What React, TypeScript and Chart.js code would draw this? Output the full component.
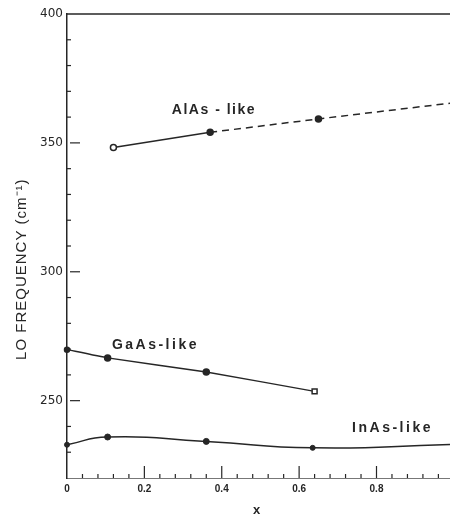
import { useEffect, useRef } from 'react';
import { Chart, registerables } from 'chart.js';

Chart.register(...registerables);

// Composition x and LO phonon frequency (cm⁻¹) for the three branches
const alAsX = [0.12, 0.37, 0.65, 0.99];
const alAsFreq = [348.2, 354.1, 359.3, 365.4];
const gaAsX = [0, 0.105, 0.36, 0.64];
const gaAsFreq = [269.8, 266.6, 261.1, 253.6];
const inAsX = [0, 0.105, 0.36, 0.635, 0.99];
const inAsFreq = [232.9, 235.9, 234.2, 231.7, 233.0];

const seriesNames = ['AlAs - like', 'GaAs-like', 'InAs-like'];
const yTickValues = [250, 300, 350, 400];
const xTickValues = [0, 0.2, 0.4, 0.6, 0.8];

const INK = '#262626';
const LABEL_FONT = '"Liberation Sans", Arial, sans-serif';

const toPoints = (xs: number[], ys: number[]) => xs.map((x, i) => ({ x, y: ys[i] }));

// where each branch name sits, in data coordinates (left edge, vertical middle)
const nameAnchors = [
  { x: 0.271, y: 362.8 },
  { x: 0.116, y: 271.7 },
  { x: 0.737, y: 239.5 },
];
const nameSpacing = ['1.5px', '2.5px', '2.5px'];

const decorations = {
  id: 'plotDecorations',
  afterDraw(chart: any) {
    const { ctx, chartArea, scales } = chart;
    const xs = scales.x;
    const ys = scales.y;
    ctx.save();

    // frame line along the top
    ctx.strokeStyle = INK;
    ctx.lineWidth = 1.5;
    ctx.beginPath();
    ctx.moveTo(chartArea.left, chartArea.top);
    ctx.lineTo(chart.width, chartArea.top);
    ctx.stroke();

    // y ticks pointing inward: every 10, longer at labelled values
    ctx.lineWidth = 1.2;
    for (let v = 230; v < 400; v += 10) {
      const py = ys.getPixelForValue(v);
      const major = v % 50 === 0;
      ctx.beginPath();
      ctx.moveTo(chartArea.left + (major ? 3 : 0), py);
      ctx.lineTo(chartArea.left + (major ? 13 : 4), py);
      ctx.stroke();
    }

    // x ticks pointing upward: every 0.04, longer every 0.2
    for (let k = 1; k * 0.04 <= 0.99; k++) {
      const v = k * 0.04;
      const px = xs.getPixelForValue(v);
      const major = k % 5 === 0;
      ctx.beginPath();
      ctx.moveTo(px, chartArea.bottom);
      ctx.lineTo(px, chartArea.bottom - (major ? 12 : 4));
      ctx.stroke();
    }

    // branch names
    ctx.fillStyle = INK;
    ctx.font = `bold 14px ${LABEL_FONT}`;
    ctx.textAlign = 'left';
    ctx.textBaseline = 'middle';
    seriesNames.forEach((name, i) => {
      const a = nameAnchors[i];
      (ctx as any).letterSpacing = nameSpacing[i];
      ctx.fillText(name, xs.getPixelForValue(a.x), ys.getPixelForValue(a.y));
    });

    // axis titles
    (ctx as any).letterSpacing = '1px';
    ctx.font = `15px ${LABEL_FONT}`;
    ctx.textAlign = 'center';
    ctx.save();
    ctx.translate(chartArea.left - 45, ys.getPixelForValue(301));
    ctx.rotate(-Math.PI / 2);
    ctx.fillText('LO FREQUENCY (cm⁻¹)', 0, 0);
    ctx.restore();

    (ctx as any).letterSpacing = '0px';
    ctx.font = `bold 13px ${LABEL_FONT}`;
    ctx.fillText('x', xs.getPixelForValue(0.49), chartArea.bottom + 32);

    ctx.restore();
  },
};

export default function App() {
  const canvasRef = useRef<HTMLCanvasElement | null>(null);

  useEffect(() => {
    const canvas = canvasRef.current;
    if (!canvas) return;

    const chart = new Chart(canvas, {
      type: 'line',
      data: {
        datasets: [
          {
            label: seriesNames[0],
            data: toPoints(alAsX, alAsFreq),
            borderColor: INK,
            borderWidth: 1.5,
            tension: 0,
            pointRadius: [3, 3, 3, 0],
            pointBackgroundColor: ['#ffffff', INK, INK, INK],
            pointBorderColor: INK,
            pointBorderWidth: 1.5,
            segment: {
              borderDash: (c: any) => (c.p0DataIndex >= 1 ? [7, 5] : undefined),
            },
          },
          {
            label: seriesNames[1],
            data: toPoints(gaAsX, gaAsFreq),
            borderColor: INK,
            borderWidth: 1.5,
            tension: 0.15,
            pointStyle: ['circle', 'circle', 'circle', 'rect'],
            pointRadius: [2.5, 3, 3, 3.5],
            pointBackgroundColor: [INK, INK, INK, '#ffffff'],
            pointBorderColor: INK,
            pointBorderWidth: 1.5,
          },
          {
            label: seriesNames[2],
            data: toPoints(inAsX, inAsFreq),
            borderColor: INK,
            borderWidth: 1.5,
            tension: 0.55,
            pointRadius: [2.5, 3, 3, 2.5, 0],
            pointBackgroundColor: INK,
            pointBorderColor: INK,
            pointBorderWidth: 1,
          },
        ],
      },
      options: {
        animation: false,
        responsive: false,
        clip: false as any,
        layout: { autoPadding: false, padding: { top: 14, right: 0, bottom: 0, left: 0 } },
        plugins: {
          legend: { display: false },
          tooltip: { enabled: false },
        },
        scales: {
          x: {
            type: 'linear',
            min: 0,
            max: 0.99,
            grid: { display: false, drawTicks: false },
            border: { display: true, color: '#777777', width: 1 },
            afterBuildTicks: (s: any) => {
              s.ticks = xTickValues.map((v) => ({ value: v }));
            },
            afterFit: (s: any) => {
              s.height = 44;
              s.paddingLeft = 0;
              s.paddingRight = 0;
            },
            ticks: {
              color: INK,
              padding: 5,
              maxRotation: 0,
              autoSkip: false,
              font: { family: LABEL_FONT, size: 10, weight: 'bold' },
              callback: (v: any) => (v === 0 ? '0' : Number(v).toFixed(1)),
            },
          },
          y: {
            type: 'linear',
            min: 220,
            max: 400,
            grid: { display: false, drawTicks: false },
            border: { display: true, color: INK, width: 1.5 },
            afterBuildTicks: (s: any) => {
              s.ticks = yTickValues.map((v) => ({ value: v }));
            },
            afterFit: (s: any) => {
              s.width = 67;
            },
            ticks: {
              color: INK,
              padding: 4,
              font: { family: '"DejaVu Sans", sans-serif', size: 12 },
            },
          },
        },
      },
      plugins: [decorations],
    });

    return () => chart.destroy();
  }, []);

  return (
    <div style={{ position: 'absolute', left: 0, top: 0, width: 450, height: 522, background: '#ffffff' }}>
      <canvas ref={canvasRef} width={450} height={522} style={{ display: 'block' }} />
    </div>
  );
}
